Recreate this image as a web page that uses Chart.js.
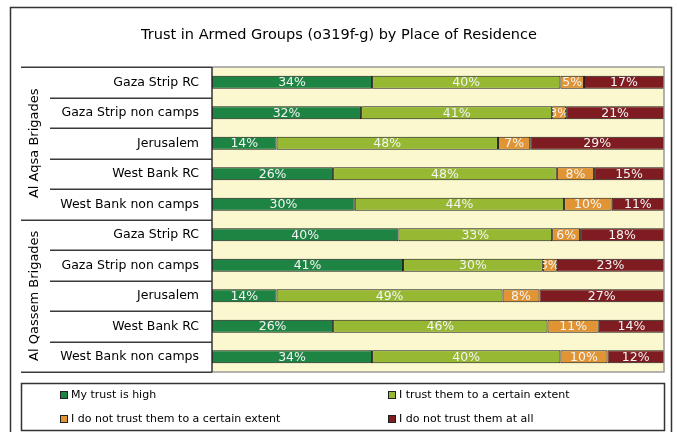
<!DOCTYPE html>
<html>
<head>
<meta charset="utf-8">
<script src="https://cdn.jsdelivr.net/npm/chart.js@4/dist/chart.umd.min.js"></script>
<style>
  body { margin: 0; background: #fff; }
  canvas { display: block; }
</style>
</head>
<body>
<canvas id="trust" width="677" height="432"></canvas>
<script>
const FONT = 'DejaVu Sans'

const chartTitle = 'Trust in Armed Groups (o319f-g) by Place of Residence'
const groups = ['Al Aqsa Brigades', 'Al Qassem Brigades']
const places = ['Gaza Strip RC', 'Gaza Strip non camps', 'Jerusalem', 'West Bank RC', 'West Bank non camps']
const categories = [...places, ...places]

// values as printed on the bars (%), Al Aqsa rows first, then Al Qassem
const trustHigh = [34, 32, 14, 26, 30, 40, 41, 14, 26, 34]
const trustCertain = [40, 41, 48, 48, 44, 33, 30, 49, 46, 40]
const notTrustCertain = [5, 3, 7, 8, 10, 6, 3, 8, 11, 10]
const notTrustAtAll = [17, 21, 29, 15, 11, 18, 23, 27, 14, 12]

const seriesNames = [
  'My trust is high',
  'I trust them to a certain extent',
  'I do not trust them to a certain extent',
  'I do not trust them at all',
]
const seriesColors = ['#1E8443', '#97B833', '#E09433', '#7E1C21']
const rawSeries = [trustHigh, trustCertain, notTrustCertain, notTrustAtAll]

// 100% stacked: each row is scaled to its own total
const rowTotals = categories.map((_, i) => rawSeries.reduce((s, arr) => s + arr[i], 0))
const shareOf = arr => arr.map((v, i) => (v / rowTotals[i]) * 100)

const decorations = {
  id: 'decorations',
  beforeDraw(chart) {
    const { ctx, chartArea: a } = chart
    ctx.save()
    ctx.fillStyle = '#fff'
    ctx.fillRect(0, 0, chart.width, chart.height)
    ctx.fillStyle = '#FBF7CF'
    ctx.fillRect(a.left, a.top, a.right - a.left, a.bottom - a.top)
    ctx.restore()
  },
  afterDraw(chart) {
    const { ctx, chartArea: a } = chart
    ctx.save()

    // plot frame
    ctx.strokeStyle = '#9a9a9a'
    ctx.lineWidth = 1.5
    ctx.beginPath()
    ctx.moveTo(a.left, a.top)
    ctx.lineTo(a.right, a.top)
    ctx.lineTo(a.right, a.bottom)
    ctx.lineTo(a.left, a.bottom)
    ctx.stroke()
    ctx.strokeStyle = '#333'
    ctx.beginPath()
    ctx.moveTo(a.left, a.top)
    ctx.lineTo(a.left, a.bottom)
    ctx.stroke()

    // category separators in the label area
    const n = categories.length
    const step = (a.bottom - a.top) / n
    ctx.strokeStyle = '#3a3a3a'
    ctx.lineWidth = 1.5
    for (let k = 0; k <= n; k++) {
      const y = Math.round(a.top + k * step) + 0.25
      const isGroupEdge = k % places.length === 0
      ctx.beginPath()
      ctx.moveTo(isGroupEdge ? 21 : 50, y)
      ctx.lineTo(a.left, y)
      ctx.stroke()
    }

    // group labels, rotated
    ctx.fillStyle = '#000'
    ctx.font = `13px "${FONT}"`
    ctx.textAlign = 'center'
    ctx.textBaseline = 'middle'
    groups.forEach((g, gi) => {
      const y0 = a.top + gi * places.length * step
      const yc = y0 + (places.length * step) / 2
      ctx.save()
      ctx.translate(35, yc)
      ctx.rotate(-Math.PI / 2)
      ctx.fillText(g, 0, 0)
      ctx.restore()
    })

    // title
    ctx.font = `14.5px "${FONT}"`
    ctx.fillText(chartTitle, 339, 35)

    // value labels on the bars
    ctx.font = `12.5px "${FONT}"`
    ctx.fillStyle = '#f4f4f4'
    chart.data.datasets.forEach((ds, di) => {
      const meta = chart.getDatasetMeta(di)
      meta.data.forEach((bar, i) => {
        const { x, base, y, height } = bar.getProps(['x', 'base', 'y', 'height'], true)
        const left = Math.min(x, base)
        const w = Math.abs(x - base)
        ctx.save()
        ctx.beginPath()
        ctx.rect(left, y - height / 2, w, height)
        ctx.clip()
        ctx.fillText(rawSeries[di][i] + '%', left + w / 2, y + 0.5)
        ctx.restore()
      })
    })

    // legend box
    ctx.strokeStyle = '#333'
    ctx.lineWidth = 1.5
    ctx.strokeRect(21.5, 383.5, 643, 47)
    ctx.font = `11px "${FONT}"`
    ctx.textAlign = 'left'
    const legendPos = [[60, 395], [388, 395], [60, 419], [388, 419]]
    seriesNames.forEach((name, i) => {
      const [lx, ly] = legendPos[i]
      ctx.fillStyle = seriesColors[i]
      ctx.fillRect(lx, ly - 4, 8, 8)
      ctx.strokeStyle = '#222'
      ctx.lineWidth = 1
      ctx.strokeRect(lx + 0.5, ly - 3.5, 7, 7)
      ctx.fillStyle = '#000'
      ctx.fillText(name, lx + 11, ly)
    })

    // outer frame
    ctx.strokeStyle = '#333'
    ctx.lineWidth = 1.5
    ctx.strokeRect(10.5, 7.5, 661, 440)
    ctx.restore()
  },
}

const ctxTrust = document.getElementById('trust').getContext('2d')
const trustChart = new Chart(ctxTrust, {
  type: 'bar',
  data: {
    labels: categories,
    datasets: rawSeries.map((arr, i) => ({
      label: seriesNames[i],
      data: shareOf(arr),
      backgroundColor: seriesColors[i],
      borderColor: '#1a1a1a',
      borderWidth: 1,
      borderSkipped: false,
      barPercentage: 0.43,
      categoryPercentage: 1,
    })),
  },
  options: {
    indexAxis: 'y',
    responsive: false,
    animation: false,
    devicePixelRatio: 1,
    layout: { padding: { top: 67, bottom: 60, right: 13, left: 0 } },
    plugins: {
      legend: { display: false },
      title: { display: false },
      tooltip: { enabled: false },
    },
    scales: {
      x: { stacked: true, min: 0, max: 100, display: false },
      y: {
        stacked: true,
        grid: { display: false, drawTicks: false },
        border: { display: false },
        ticks: {
          autoSkip: false,
          color: '#000',
          padding: 13,
          font: { family: FONT, size: 12.5 },
        },
        afterFit: scale => {
          scale.width = 212
        },
      },
    },
  },
  plugins: [decorations],
})
</script>
</body>
</html>
